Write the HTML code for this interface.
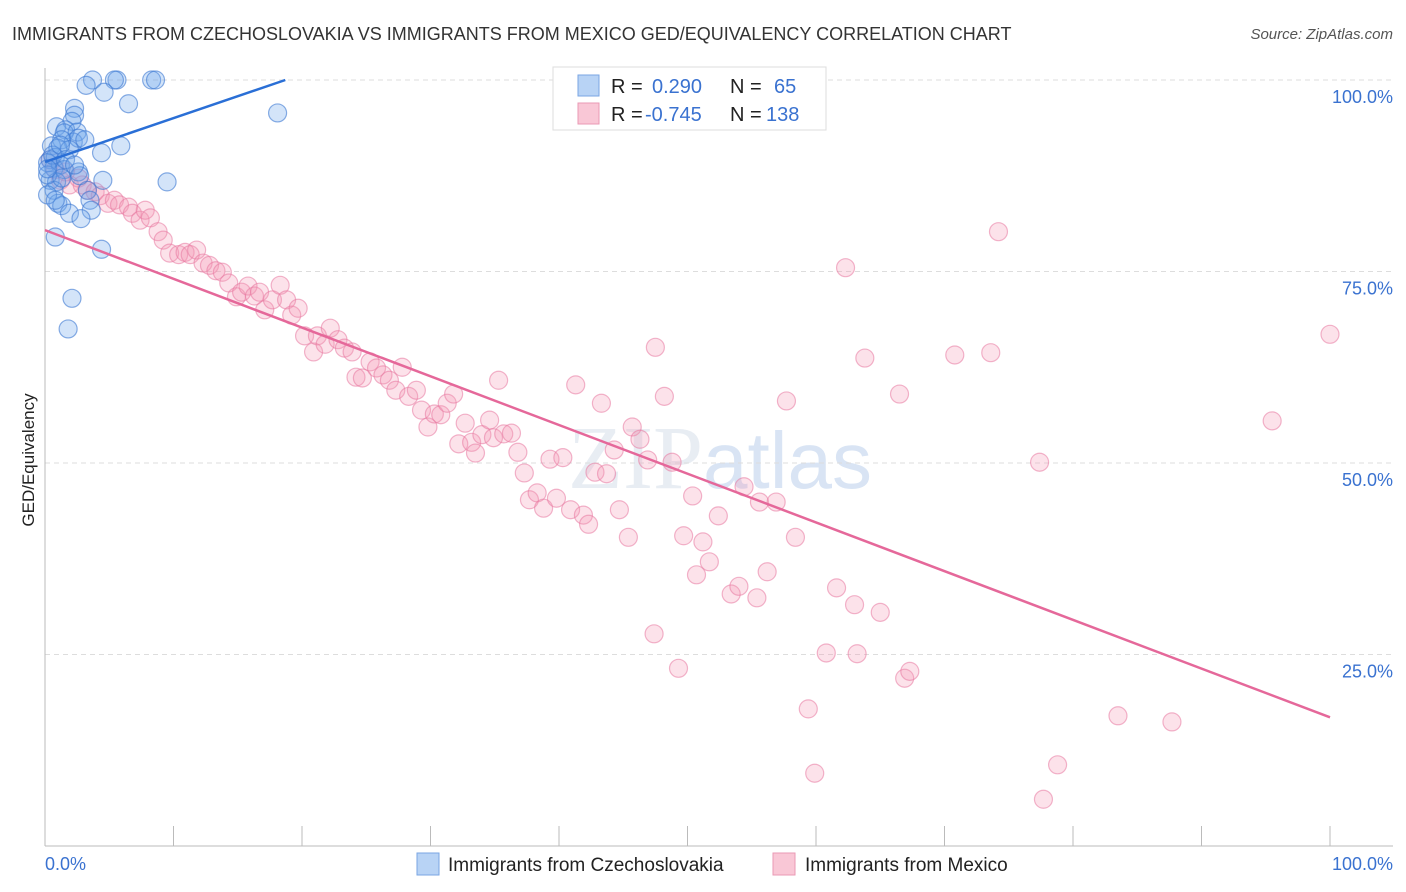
<!DOCTYPE html>
<html><head><meta charset="utf-8"><style>
body{margin:0;background:#fff;font-family:"Liberation Sans",sans-serif}
svg{display:block}
</style></head><body>
<svg id="c" width="1406" height="892">
<text x="12" y="40" font-size="18" fill="#333">IMMIGRANTS FROM CZECHOSLOVAKIA VS IMMIGRANTS FROM MEXICO GED/EQUIVALENCY CORRELATION CHART</text>
<text x="1393" y="39" font-size="15" fill="#555" font-style="italic" text-anchor="end">Source: ZipAtlas.com</text>
<text x="0" y="0" transform="translate(34,460) rotate(-90)" font-size="17" fill="#222" text-anchor="middle">GED/Equivalency</text>
<text x="720" y="488" font-size="90" fill="#dfe6ef" text-anchor="middle" font-family="Liberation Serif,serif" opacity="0.7">ZIP<tspan fill="#c9daf0" font-family="Liberation Sans,sans-serif" font-size="80">atlas</tspan></text>
<g id="grid"></g><g id="axes"></g><g id="pts"></g><g id="lines"></g>
<g>
<rect x="553" y="67" width="273" height="63" fill="#fff" stroke="#ddd"/>
<rect x="578" y="75" width="21" height="21" fill="#b8d3f5" stroke="#7aa6e3"/>
<rect x="578" y="103" width="21" height="21" fill="#f9c7d6" stroke="#ea9ab4"/>
<text x="611" y="93" font-size="20" fill="#222">R = </text><text x="652" y="93" font-size="20" fill="#3a72d0">0.290</text>
<text x="730" y="93" font-size="20" fill="#222">N = </text><text x="774" y="93" font-size="20" fill="#3a72d0">65</text>
<text x="611" y="121" font-size="20" fill="#222">R = </text><text x="645" y="121" font-size="20" fill="#3a72d0">-0.745</text>
<text x="730" y="121" font-size="20" fill="#222">N = </text><text x="766" y="121" font-size="20" fill="#3a72d0">138</text>
</g>
<g>
<rect x="417" y="853" width="22" height="22" fill="#b8d3f5" stroke="#7aa6e3"/>
<text x="448" y="871" font-size="19" fill="#222">Immigrants from Czechoslovakia</text>
<rect x="773" y="853" width="22" height="22" fill="#f9c7d6" stroke="#ea9ab4"/>
<text x="805" y="871" font-size="19" fill="#222">Immigrants from Mexico</text>
</g>
</svg>
<script>
const yTicks=[25,50,75,100];
const yTickLabels=["25.0%","50.0%","75.0%","100.0%"];
const xTicks=[0,10,20,30,40,50,60,70,80,90,100];
const blueX=[3.7,5.6,5.4,8.3,8.6,3.2,4.6,6.5,18.1,2.3,2.3,2.1,0.9,1.6,1.5,2.5,2.2,2.6,1.3,0.5,1.0,5.9,4.4,0.4,0.8,0.2,1.2,0.7,1.5,2.6,4.5,9.5,0.4,0.9,0.7,3.3,3.5,1.0,1.3,3.6,1.9,2.8,0.8,4.4,2.1,1.8,0.2,1.3,1.9,2.7,0.2,0.8,0.6,0.2,1.2,3.1,1.6,2.3];
const blueY=[100,100,100,100,100,99.3,98.4,96.9,95.7,96.3,95.4,94.6,93.9,93.5,93.1,93.2,91.9,92.4,92.2,91.4,91.1,91.4,90.5,89.6,89.9,89.2,88.9,88.5,88.3,88.0,86.9,86.7,86.9,86.7,85.6,85.6,84.3,83.9,83.6,83.0,82.6,81.9,79.5,77.9,71.5,67.5,87.6,87.2,90.9,87.5,85.0,84.3,90.2,88.4,91.5,92.2,89.6,88.9];
const pinkX=[0.4,0.8,1.2,1.6,1.9,2.6,2.9,3.3,3.9,4.3,4.9,5.4,5.8,6.5,6.8,7.4,7.8,8.2,8.8,9.2,9.7,10.4,10.9,11.3,11.8,12.3,12.8,13.3,13.8,14.3,14.9,15.3,15.8,16.3,16.7,17.1,17.7,18.3,18.8,19.2,19.7,20.2,20.9,21.2,21.8,22.2,22.8,23.3,23.9,24.2,24.7,25.3,25.8,26.3,26.8,27.3,27.8,28.3,28.9,29.3,29.8,30.3,30.8,31.3,31.8,32.2,32.7,33.2,33.5,34.0,34.6,34.9,35.3,35.7,36.3,36.8,37.3,37.7,38.3,38.8,39.3,39.8,40.3,40.9,41.3,41.9,42.3,42.8,43.3,43.7,44.3,44.7,45.4,45.7,46.3,46.9,47.5,47.4,48.2,48.8,49.3,49.7,50.4,50.7,51.2,51.7,52.4,53.4,54.0,54.4,54.7,55.4,55.6,56.2,56.9,57.7,58.4,59.4,59.9,60.8,61.6,62.3,63.0,63.2,63.8,65.0,66.5,66.9,67.3,70.8,73.6,74.2,77.4,77.7,78.8,83.5,87.7,95.5,100];
const pinkY=[89.6,88.3,86.9,88.0,86.3,87.2,86.3,85.6,85.4,84.9,83.9,84.3,83.7,83.4,82.6,81.7,83.0,82.0,80.2,79.1,77.4,77.2,77.5,77.2,77.8,76.1,75.8,75.1,74.9,73.5,71.7,72.3,73.1,71.8,72.3,70.0,71.3,73.2,71.3,69.3,70.2,66.6,64.5,66.6,65.5,67.6,66.1,65.0,64.5,61.2,61.1,63.2,62.4,61.5,60.8,59.5,62.5,58.7,59.5,56.9,54.7,56.4,56.3,57.8,59.0,52.5,55.2,52.7,51.3,53.7,55.6,53.3,60.8,53.8,53.9,51.4,48.7,45.2,46.1,44.1,50.5,45.4,50.7,43.9,60.2,43.2,42.0,48.8,57.8,48.6,51.7,43.9,40.3,54.7,53.1,50.4,65.1,27.7,58.7,50.1,23.2,40.5,45.7,35.4,39.7,37.1,43.1,32.9,33.9,46.9,100,32.4,44.9,35.8,44.9,58.1,40.3,17.9,9.5,25.2,33.7,75.5,31.5,25.1,63.7,30.5,59.0,21.9,22.8,64.1,64.4,80.2,50.1,6.1,10.6,17.0,16.2,55.5,66.8];
const blueTrend=[89.3,100.0]; // y at x=0 and x=18.7
const blueTrendX=[0,18.7];
const pinkTrend=[80.4,16.8];
const pinkTrendX=[0,100];
const NS="http://www.w3.org/2000/svg";
const X0=45,X1=1330,Y0=846,Y1=80;
const sx=v=>X0+(X1-X0)*v/100, sy=v=>Y0-(Y0-Y1)*v/100;
function mk(tag,attrs,parent){const e=document.createElementNS(NS,tag);for(const k in attrs)e.setAttribute(k,attrs[k]);document.getElementById(parent).appendChild(e);return e;}
yTicks.forEach((t,i)=>{
 const g=mk('line',{x1:45,x2:1393,y1:sy(t),y2:sy(t),stroke:'#ddd','stroke-dasharray':'5,4'},'grid');
 
 
 const l=mk('text',{x:1393,y:sy(t)+23,'font-size':18,fill:'#3a72d0','text-anchor':'end'},'axes');
 l.textContent=yTickLabels[i];
 
 
});
const ax=mk('line',{x1:45,x2:45,y1:68,y2:846,stroke:'#bbb'},'axes');


const bx=mk('line',{x1:45,x2:1393,y1:846,y2:846,stroke:'#bbb'},'axes');


xTicks.forEach(t=>{
 const k=mk('line',{x1:sx(t),x2:sx(t),y1:826,y2:846,stroke:'#bbb'},'axes');
 
 
});
const xl0=mk('text',{x:45,y:870,'font-size':18,fill:'#3a72d0'},'axes');xl0.textContent='0.0%';


const xl1=mk('text',{x:1393,y:870,'font-size':18,fill:'#3a72d0','text-anchor':'end'},'axes');xl1.textContent='100.0%';


pinkX.forEach((x,i)=>{
 const c=mk('circle',{cx:sx(x),cy:sy(pinkY[i]),r:9,fill:'rgba(244,150,180,0.28)',stroke:'rgba(232,120,160,0.55)','stroke-width':1.2},'pts');
 
 
});
blueX.forEach((x,i)=>{
 const c=mk('circle',{cx:sx(x),cy:sy(blueY[i]),r:9,fill:'rgba(110,165,235,0.3)',stroke:'rgba(60,120,210,0.6)','stroke-width':1.2},'pts');
 
 
});
const bl=mk('line',{x1:sx(blueTrendX[0]),y1:sy(blueTrend[0]),x2:sx(blueTrendX[1]),y2:sy(blueTrend[1]),stroke:'#2a6fd6','stroke-width':2.5},'lines');


const pl=mk('line',{x1:sx(pinkTrendX[0]),y1:sy(pinkTrend[0]),x2:sx(pinkTrendX[1]),y2:sy(pinkTrend[1]),stroke:'#e5689a','stroke-width':2.5},'lines');


</script>
</body></html>
